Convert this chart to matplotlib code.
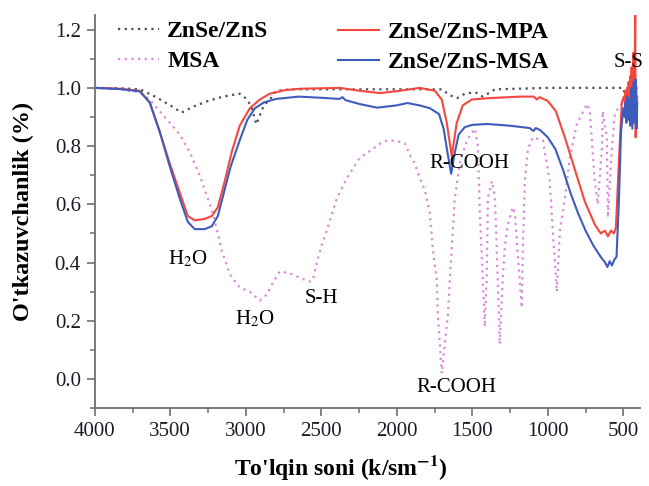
import matplotlib
matplotlib.use("Agg")
import matplotlib.pyplot as plt
from matplotlib.ticker import MultipleLocator, FormatStrFormatter

# --- data ---
mpa_wn = [4000, 3834, 3702, 3636, 3570, 3503, 3437, 3384, 3338, 3272, 3225, 3185,
          3139, 3093, 3040, 2973, 2907, 2841, 2742, 2642, 2377, 2245, 2112, 1980,
          1848, 1748, 1702, 1669, 1636, 1603, 1563, 1503, 1384, 1185, 1093, 1073,
          1053, 1000, 947, 887, 821, 755, 688, 649, 622, 602, 582, 562, 549, 529,
          510, 496, 490, 485, 480, 475, 470, 465, 460, 455, 450, 445, 440, 435,
          430, 425, 421, 418, 415, 412, 408]
mpa_t = [1.0, 0.997, 0.99, 0.95, 0.85, 0.74, 0.64, 0.56, 0.545, 0.55, 0.56, 0.59,
         0.68, 0.78, 0.87, 0.93, 0.96, 0.98, 0.992, 0.997, 1.0, 0.99, 0.982, 0.99,
         1.0, 0.99, 0.96, 0.88, 0.765, 0.88, 0.94, 0.96, 0.965, 0.97, 0.97, 0.96,
         0.968, 0.955, 0.92, 0.83, 0.72, 0.61, 0.53, 0.50, 0.51, 0.49, 0.51, 0.50,
         0.52, 0.75, 0.95, 0.97, 0.95, 0.99, 0.92, 1.0, 0.93, 1.02, 0.95, 1.04,
         0.97, 1.07, 0.98, 1.12, 0.90, 1.05, 1.25, 0.83, 1.0, 0.9, 0.97]

msa_q_wn = [4000, 3834, 3702, 3636, 3570, 3503, 3437, 3384, 3338, 3272, 3225, 3185,
            3150, 3100, 3040, 2990, 2940, 2880, 2800, 2650, 2500, 2380, 2360, 2340,
            2250, 2130, 2000, 1930, 1850, 1780, 1720, 1690, 1665, 1640, 1615, 1590,
            1550, 1500, 1400, 1250, 1120, 1095, 1080, 1050, 1000, 950, 900, 850,
            800, 750, 700, 650, 620, 605, 590, 575, 560, 545, 530, 515, 500, 490,
            485, 480, 475, 470, 462, 455, 448, 440, 432, 425, 418, 412, 408]
msa_q_t = [1.0, 0.996, 0.988, 0.95, 0.85, 0.73, 0.62, 0.54, 0.515, 0.515, 0.525, 0.56,
           0.63, 0.73, 0.82, 0.89, 0.93, 0.95, 0.962, 0.97, 0.966, 0.962, 0.968, 0.958,
           0.945, 0.932, 0.94, 0.948, 0.94, 0.93, 0.91, 0.86, 0.78, 0.705, 0.78, 0.84,
           0.865, 0.873, 0.876, 0.87, 0.862, 0.852, 0.862, 0.855, 0.83, 0.79, 0.72, 0.64,
           0.57, 0.51, 0.46, 0.42, 0.40, 0.385, 0.405, 0.39, 0.41, 0.42, 0.6, 0.85, 0.93, 0.9,
           0.95, 0.88, 0.97, 0.89, 0.96, 0.87, 1.0, 0.86, 1.02, 0.88, 1.03, 0.86, 0.95]

core_wn = [4000, 3800, 3700, 3600, 3500, 3425, 3350, 3250, 3150, 3040, 2990, 2960,
           2930, 2880, 2840, 2800, 2700, 2000, 1700, 1650, 1600, 1550, 1480, 1430,
           1350, 1000, 500, 490, 470, 450, 430, 400]
core_t = [1.0, 0.998, 0.995, 0.97, 0.94, 0.915, 0.935, 0.955, 0.97, 0.98, 0.96, 0.93,
          0.875, 0.94, 0.96, 0.99, 0.995, 0.995, 0.995, 0.975, 0.965, 0.98, 0.985, 0.97,
          0.995, 1.0, 1.0, 0.98, 1.0, 0.99, 1.0, 1.0]

acid_wn = [4000, 3834, 3702, 3636, 3570, 3503, 3437, 3371, 3305, 3258, 3218, 3185,
           3159, 3132, 3106, 3040, 2973, 2907, 2861, 2821, 2775, 2689, 2629, 2576,
           2556, 2530, 2497, 2464, 2397, 2331, 2245, 2159, 2093, 2046, 1980, 1947,
           1914, 1881, 1848, 1815, 1781, 1762, 1735, 1728, 1702, 1662, 1636, 1616,
           1583, 1536, 1483, 1463, 1450, 1430, 1417, 1404, 1397, 1371, 1351, 1338,
           1318, 1298, 1285, 1265, 1232, 1218, 1198, 1172, 1165, 1152, 1132, 1099,
           1033, 987, 967, 940, 920, 887, 854, 808, 741, 722, 689, 669, 642, 636,
           609, 602, 576, 556, 523, 496, 480]
acid_t = [1.0, 0.995, 0.985, 0.96, 0.92, 0.88, 0.84, 0.78, 0.70, 0.63, 0.57, 0.50,
          0.44, 0.40, 0.36, 0.315, 0.30, 0.27, 0.29, 0.33, 0.37, 0.36, 0.345, 0.335,
          0.34, 0.40, 0.46, 0.51, 0.62, 0.69, 0.76, 0.79, 0.815, 0.82, 0.815, 0.81,
          0.77, 0.74, 0.69, 0.65, 0.57, 0.45, 0.34, 0.22, 0.02, 0.22, 0.45, 0.62,
          0.74, 0.82, 0.86, 0.80, 0.57, 0.34, 0.18, 0.36, 0.62, 0.68, 0.63, 0.45,
          0.12, 0.35, 0.45, 0.53, 0.59, 0.57, 0.42, 0.245, 0.45, 0.68, 0.79, 0.83,
          0.82, 0.68, 0.51, 0.30, 0.51, 0.62, 0.76, 0.875, 0.945, 0.92, 0.68, 0.60,
          0.79, 0.92, 0.83, 0.555, 0.79, 0.91, 0.94, 0.95, 0.97]

legend_labels = ["ZnSe/ZnS", "MSA", "ZnSe/ZnS-MPA", "ZnSe/ZnS-MSA"]

plt.rcParams['font.family'] = ['Liberation Serif', 'DejaVu Serif']
plt.rcParams['mathtext.fontset'] = 'stix'

fig = plt.figure(figsize=(6.49, 4.86), dpi=100)
ax = fig.add_axes([0.146, 0.160, 0.840, 0.809])

dots = (0, (1, 2.0))
l_core, = ax.plot(core_wn, core_t, color='#505050', lw=1.6, ls=dots)
l_acid, = ax.plot(acid_wn, acid_t, color='#d98ad9', lw=1.6, ls=dots)
l_mpa, = ax.plot(mpa_wn, mpa_t, color='#f5473d', lw=1.5)
l_msa, = ax.plot(msa_q_wn, msa_q_t, color='#3d5cbd', lw=1.5)

ax.set_xlim(4000, 390)
ax.set_ylim(-0.1, 1.25)
ax.xaxis.set_major_locator(MultipleLocator(500))
ax.xaxis.set_minor_locator(MultipleLocator(250))
ax.yaxis.set_major_locator(MultipleLocator(0.2))
ax.yaxis.set_minor_locator(MultipleLocator(0.1))
ax.yaxis.set_major_formatter(FormatStrFormatter('%.1f'))

for side in ['top', 'right']:
    ax.spines[side].set_visible(False)
for side in ['left', 'bottom']:
    ax.spines[side].set_color('#707070')
    ax.spines[side].set_linewidth(1.3)
ax.tick_params(which='major', direction='out', length=6, width=1.2,
               color='#707070', labelsize=15, labelcolor='#1c1c28', pad=4)
ax.tick_params(which='minor', direction='out', length=3.5, width=1.1, color='#707070')

ax.set_xlabel("To'lqin soni (k/sm$^{\\mathbf{-1}}$)", fontsize=17, fontweight='bold')
ax.set_ylabel("O'tkazuvchanlik (%)", fontsize=17.5, fontweight='bold')
ax.xaxis.set_label_coords(0.451, -0.115)
ax.yaxis.set_label_coords(-0.112, 0.5)

leg_kw = dict(loc='upper left', frameon=False, handlelength=1.75,
              handletextpad=0.35, labelspacing=0.34, borderpad=0,
              borderaxespad=0, prop={'weight': 'bold', 'size': 17})
leg1 = ax.legend([l_core, l_acid], legend_labels[:2],
                 bbox_to_anchor=(0.042, 0.985), **leg_kw)
ax.add_artist(leg1)
ax.legend([l_mpa, l_msa], legend_labels[2:],
          bbox_to_anchor=(0.446, 0.983), **leg_kw)

# peak labels
ax.text(3384, 0.413, "H$_2$O", fontsize=15, ha='center', va='center')
ax.text(2940, 0.208, "H$_2$O", fontsize=15, ha='center', va='center')
ax.text(2497, 0.276, "S-H", fontsize=15, ha='center', va='center')
ax.text(1516, 0.74, "R-COOH", fontsize=15, ha='center', va='center')
ax.text(1603, -0.03, "R-COOH", fontsize=15, ha='center', va='center')
ax.text(562, 1.086, "S-S", fontsize=15, ha='left', va='center')

fig.savefig("out.png", dpi=100)
